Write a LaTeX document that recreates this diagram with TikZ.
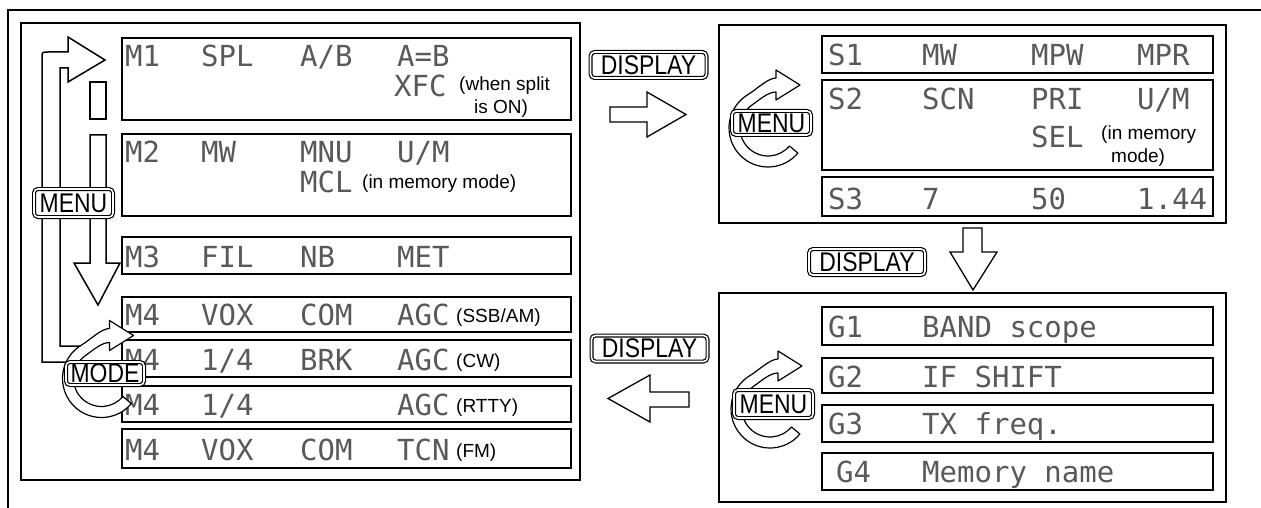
\documentclass[tikz,border=0pt]{standalone}
\usepackage{fontspec}
\newfontfamily\lcdfont{DejaVu Sans Mono}
\newfontfamily\notefont{Liberation Sans}
\newfontfamily\btnfont[FakeStretch=0.85]{Liberation Sans}
\tikzset{
	lcd/.style={anchor=base west, inner sep=0pt, text=black!65, font=\lcdfont\fontsize{29}{29}\selectfont},
	note/.style={anchor=base west, inner sep=0pt, align=left, font=\notefont\fontsize{19}{24}\selectfont},
	frame/.style={line width=1.2pt},
	panel/.style={draw, line width=1.4pt},
	rowbox/.style={draw, line width=2pt},
	hollow/.style={draw, line width=1.3pt, fill=white, line join=miter},
	ring/.style={draw, line width=1.2pt, fill=white, line join=round},
	btn/.style={draw, line width=1.2pt, double=white, double distance=1.6pt, rounded corners=4pt, fill=white, inner sep=0pt, minimum width=79pt, minimum height=26pt, font=\btnfont\fontsize{27}{27}\selectfont},
	dispbtn/.style={btn, minimum width=116pt}
}
\newcommand{\cyclering}[2]{%
	\begin{scope}[shift={(#1,#2)}]
		\filldraw[ring] (40:39) arc[start angle=40, end angle=240, radius=39]
			.. controls (-11,-39) and (0,-50) .. (8,-50) -- (8,-58) -- (32,-43) -- (8,-28) -- (8,-36)
			.. controls (0,-36) and (-8,-28.6) .. (235:28)
			arc[start angle=235, end angle=40, radius=28] -- cycle;
	\end{scope}}
\begin{document}
\begin{tikzpicture}[x=1pt, y=-1pt]
	\useasboundingbox (0,0) rectangle (1261,508);
	\draw[frame] (1261,10) -- (8,10) -- (8,508);
	% left panel
	\draw[panel] (21,23) rectangle (580,480);
	\draw[rowbox] (122,38) rectangle (571,120);
	\draw[rowbox] (122,134) rectangle (571,216);
	\draw[rowbox] (122,237) rectangle (571,274);
	\draw[rowbox] (122,297) rectangle (571,332);
	\draw[rowbox] (122,340) rectangle (571,377);
	\draw[rowbox] (122,386) rectangle (571,422);
	\draw[rowbox] (122,429) rectangle (571,468);
	\node[lcd] (m1a) at (125,67) {M1};
	\node[lcd] (m1b) at (201,67) {SPL};
	\node[lcd] (m1c) at (300,67) {A/B};
	\node[lcd] (m1d) at (397,67) {A=B};
	\node[lcd] (m1e) at (394,97) {XFC};
	\node[note] (m1f) at (459,114) {(when split\\\hspace*{15pt}is ON)};
	\node[lcd] (m2a) at (125,163) {M2};
	\node[lcd] (m2b) at (201,163) {MW};
	\node[lcd] (m2c) at (300,163) {MNU};
	\node[lcd] (m2d) at (397,163) {U/M};
	\node[lcd] (m2e) at (300,192) {MCL};
	\node[note] (m2f) at (362,189) {(in memory mode)};
	\node[lcd] (m3a) at (125,267) {M3};
	\node[lcd] (m3b) at (201,267) {FIL};
	\node[lcd] (m3c) at (300,267) {NB};
	\node[lcd] (m3d) at (397,267) {MET};
	\node[lcd] (m4a) at (125,325) {M4};
	\node[lcd] (m4b) at (201,325) {VOX};
	\node[lcd] (m4c) at (300,325) {COM};
	\node[lcd] (m4d) at (397,325) {AGC};
	\node[note] (m4e) at (456,322) {(SSB/AM)};
	\node[lcd] (cwa) at (125,370) {M4};
	\node[lcd] (cwb) at (201,370) {1/4};
	\node[lcd] (cwc) at (300,370) {BRK};
	\node[lcd] (cwd) at (397,370) {AGC};
	\node[note] (cwe) at (456,367) {(CW)};
	\node[lcd] (rta) at (125,415) {M4};
	\node[lcd] (rtb) at (201,415) {1/4};
	\node[lcd] (rtd) at (397,415) {AGC};
	\node[note] (rte) at (456,412) {(RTTY)};
	\node[lcd] (fma) at (125,460) {M4};
	\node[lcd] (fmb) at (201,460) {VOX};
	\node[lcd] (fmc) at (300,460) {COM};
	\node[lcd] (fmd) at (397,460) {TCN};
	\node[note] (fme) at (456,457) {(FM)};
	% left arrows
	\draw[line width=1.5pt, line join=miter] (66,362) -- (42,362) -- (42,58) .. controls (42,52) .. (48,52) -- (68,52) -- (68,37) -- (105,60) -- (68,82) -- (68,68) -- (60,68) -- (60,346) -- (80,346);
	\draw[line width=1.5pt] (90,82) rectangle (106,119);
	\draw[hollow, line width=1.5pt] (90,135) -- (106,135) -- (106,263) -- (120,263) -- (98,305) -- (74,263) -- (90,263) -- cycle;
	\cyclering{101.5}{378.5}
	\node[btn, minimum height=28pt] (menul) at (73.5,203) {MENU};
	\node[btn, minimum height=23pt, minimum width=78pt] (mode) at (105,373.5) {MODE};
	% set panel
	\draw[panel] (719,25) rectangle (1226,223);
	\draw[rowbox] (822,36) rectangle (1213,73);
	\draw[rowbox] (822,80) rectangle (1213,170);
	\draw[rowbox] (822,177) rectangle (1213,216);
	\node[lcd] (s1a) at (828,66) {S1};
	\node[lcd] (s1b) at (922,66) {MW};
	\node[lcd] (s1c) at (1031,66) {MPW};
	\node[lcd] (s1d) at (1137,66) {MPR};
	\node[lcd] (s2a) at (828,110) {S2};
	\node[lcd] (s2b) at (922,110) {SCN};
	\node[lcd] (s2c) at (1031,110) {PRI};
	\node[lcd] (s2d) at (1137,110) {U/M};
	\node[lcd] (s2e) at (1031,148) {SEL};
	\node[note] (s2f) at (1101,163) {(in memory\\\hspace*{10pt}mode)};
	\node[lcd] (s3a) at (828,209) {S3};
	\node[lcd] (s3b) at (922,209) {7};
	\node[lcd] (s3c) at (1031,209) {50};
	\node[lcd] (s3d) at (1137,209) {1.44};
	\cyclering{768}{128}
	\node[btn, minimum height=24pt] (menus) at (771.5,123) {MENU};
	% function panel
	\draw[panel] (719,293) rectangle (1226,502);
	\draw[rowbox] (822,307) rectangle (1213,345);
	\draw[rowbox] (822,358) rectangle (1213,393);
	\draw[rowbox] (822,405) rectangle (1213,442);
	\draw[rowbox] (822,453) rectangle (1213,490);
	\node[lcd] (g1a) at (828,337) {G1};
	\node[lcd] (g1b) at (922,337) {BAND scope};
	\node[lcd] (g2a) at (828,387) {G2};
	\node[lcd] (g2b) at (922,387) {IF SHIFT};
	\node[lcd] (g3a) at (828,434) {G3};
	\node[lcd] (g3b) at (922,434) {TX freq.};
	\node[lcd] (g4a) at (836,482) {G4};
	\node[lcd] (g4b) at (922,482) {Memory name};
	\cyclering{770}{409}
	\node[btn, minimum height=28pt] (menug) at (773.5,404) {MENU};
	% display arrows
	\node[dispbtn] (disps) at (648.5,65) {DISPLAY};
	\draw[hollow] (610,107) -- (647,107) -- (647,92) -- (686,114.5) -- (647,137) -- (647,122) -- (610,122) -- cycle;
	\node[dispbtn] (dispg) at (867,262) {DISPLAY};
	\draw[hollow] (963,228) -- (982,228) -- (982,252) -- (997,252) -- (973,290) -- (950,252) -- (963,252) -- cycle;
	\node[dispbtn] (dispm) at (649.5,348.5) {DISPLAY};
	\draw[hollow] (689,392) -- (650,392) -- (650,375) -- (608,398.5) -- (650,422) -- (650,407) -- (689,407) -- cycle;
\end{tikzpicture}
\end{document}
